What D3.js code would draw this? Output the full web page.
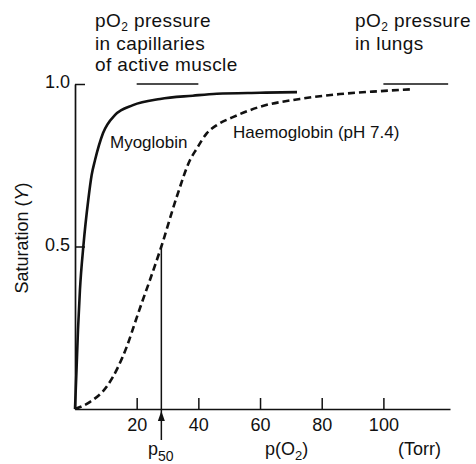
<!DOCTYPE html>
<html>
<head>
<meta charset="utf-8">
<script src="https://cdn.jsdelivr.net/npm/d3@7"></script>
<style>
  html, body { margin: 0; padding: 0; background: #fff; }
  svg { display: block; }
  text { font-family: "Liberation Sans", Arial, Helvetica, sans-serif; fill: #111; }
</style>
</head>
<body>
<svg id="chart" width="476" height="464"></svg>
<script>
// Oxygen binding curves: saturation against partial pressure of O2 (Torr)
const myoglobinP   = [0, 0.49, 0.97, 1.6, 2.75, 4.3, 5.4, 6.5, 9.1, 13, 18.8, 27.6, 38.2, 46, 60, 72];
const myoglobinY   = [0, 0.12, 0.243, 0.366, 0.505, 0.643, 0.72, 0.766, 0.849, 0.905, 0.935, 0.954, 0.964, 0.97, 0.973, 0.975];

const haemoglobinP = [0, 4.9, 10.3, 14, 16.8, 19.4, 21.6, 24.3, 28, 33, 37.3, 39.4, 42.7, 46.4, 51.2, 60, 72.9, 85.9, 98.9, 109.6];
const haemoglobinY = [0, 0.022, 0.069, 0.13, 0.192, 0.264, 0.325, 0.397, 0.5, 0.653, 0.766, 0.8, 0.848, 0.876, 0.898, 0.93, 0.954, 0.969, 0.978, 0.984];

const xTicks = [20, 40, 60, 80, 100];
const yTicks = [0.5, 1.0];
const p50 = 28;                 // half-saturation pressure of haemoglobin
const muscleRange = [20, 40];   // pO2 in capillaries of active muscle
const lungRange = [100, 121];   // pO2 in lungs

const svg = d3.select("#chart");
const x = d3.scaleLinear().domain([0, 121.6]).range([75, 450]);
const y = d3.scaleLinear().domain([0, 1]).range([409, 84]);

// Axes with inward ticks
const xAxis = svg.append("g")
  .attr("transform", `translate(0,${y(0)})`)
  .call(d3.axisBottom(x).tickValues(xTicks).tickSizeInner(-11).tickSizeOuter(0).tickPadding(9));
const yAxis = svg.append("g")
  .attr("transform", `translate(${x(0)},0)`)
  .call(d3.axisLeft(y).tickValues(yTicks).tickFormat(d3.format(".1f")).tickSizeInner(-10).tickSizeOuter(0).tickPadding(5));

[xAxis, yAxis].forEach(g => {
  g.select(".domain").attr("stroke", "#111").attr("stroke-width", 1.7);
  g.selectAll(".tick line").attr("stroke", "#111").attr("stroke-width", 1.5);
  g.selectAll(".tick text").attr("font-size", 18).attr("fill", "#111")
    .style("font-family", "'Liberation Sans', Arial, sans-serif");
});
yAxis.selectAll(".tick text").attr("dy", "0.2em");

// Curves
const line = d3.line().x(d => x(d[0])).y(d => y(d[1])).curve(d3.curveMonotoneX);
const myo = myoglobinP.map((p, i) => [p, myoglobinY[i]]);
const hb = haemoglobinP.map((p, i) => [p, haemoglobinY[i]]);

svg.append("path").datum(myo).attr("d", line)
  .attr("fill", "none").attr("stroke", "#111").attr("stroke-width", 2.6);
svg.append("path").datum(hb).attr("d", line)
  .attr("fill", "none").attr("stroke", "#111").attr("stroke-width", 2.6)
  .attr("stroke-dasharray", "7,4");

// p50 marker: vertical line from the half-saturation point with an upward arrow
const xp = x(p50);
svg.append("line").attr("x1", xp).attr("x2", xp).attr("y1", y(0.5)).attr("y2", 440)
  .attr("stroke", "#111").attr("stroke-width", 1.5);
svg.append("path")
  .attr("d", `M${xp},${y(0) + 2}L${xp - 3.5},${y(0) + 12}L${xp + 3.5},${y(0) + 12}Z`)
  .attr("fill", "#111");

// Pressure range bars at full saturation
[muscleRange, lungRange].forEach(r => {
  svg.append("line").attr("x1", x(r[0])).attr("x2", x(r[1]))
    .attr("y1", y(1)).attr("y2", y(1))
    .attr("stroke", "#111").attr("stroke-width", 1.7);
});

// Text labels
function label(xp, yp, size) {
  return svg.append("text").attr("x", xp).attr("y", yp).attr("font-size", size);
}
function pO2Line(t) {
  t.append("tspan").text("pO");
  t.append("tspan").attr("font-size", 12).attr("dy", 4).text("2");
  t.append("tspan").attr("dy", -4).text(" pressure");
}
pO2Line(label(95, 27, 19).attr("letter-spacing", 0.4));
label(95, 50, 19).attr("letter-spacing", 0.4).text("in capillaries");
label(95, 71, 19).attr("letter-spacing", 0.4).text("of active muscle");
pO2Line(label(355, 27, 19).attr("letter-spacing", 0.4));
label(355, 50, 19).attr("letter-spacing", 0.4).text("in lungs");

label(110, 148, 17).text("Myoglobin");
label(233, 138, 17).text("Haemoglobin (pH 7.4)");

const p50Label = label(148, 455, 18);
p50Label.append("tspan").text("p");
p50Label.append("tspan").attr("font-size", 14).attr("dy", 6).text("50");

const pLabel = label(265, 455, 18);
pLabel.append("tspan").text("p(O");
pLabel.append("tspan").attr("font-size", 13).attr("dy", 5).text("2");
pLabel.append("tspan").attr("dy", -5).text(")");

label(398, 455, 18).text("(Torr)");

const yTitle = svg.append("text")
  .attr("transform", "translate(28,238) rotate(-90)")
  .attr("text-anchor", "middle").attr("font-size", 18);
yTitle.append("tspan").text("Saturation (");
yTitle.append("tspan").attr("font-style", "italic").text("Y");
yTitle.append("tspan").text(")");
</script>
</body>
</html>
